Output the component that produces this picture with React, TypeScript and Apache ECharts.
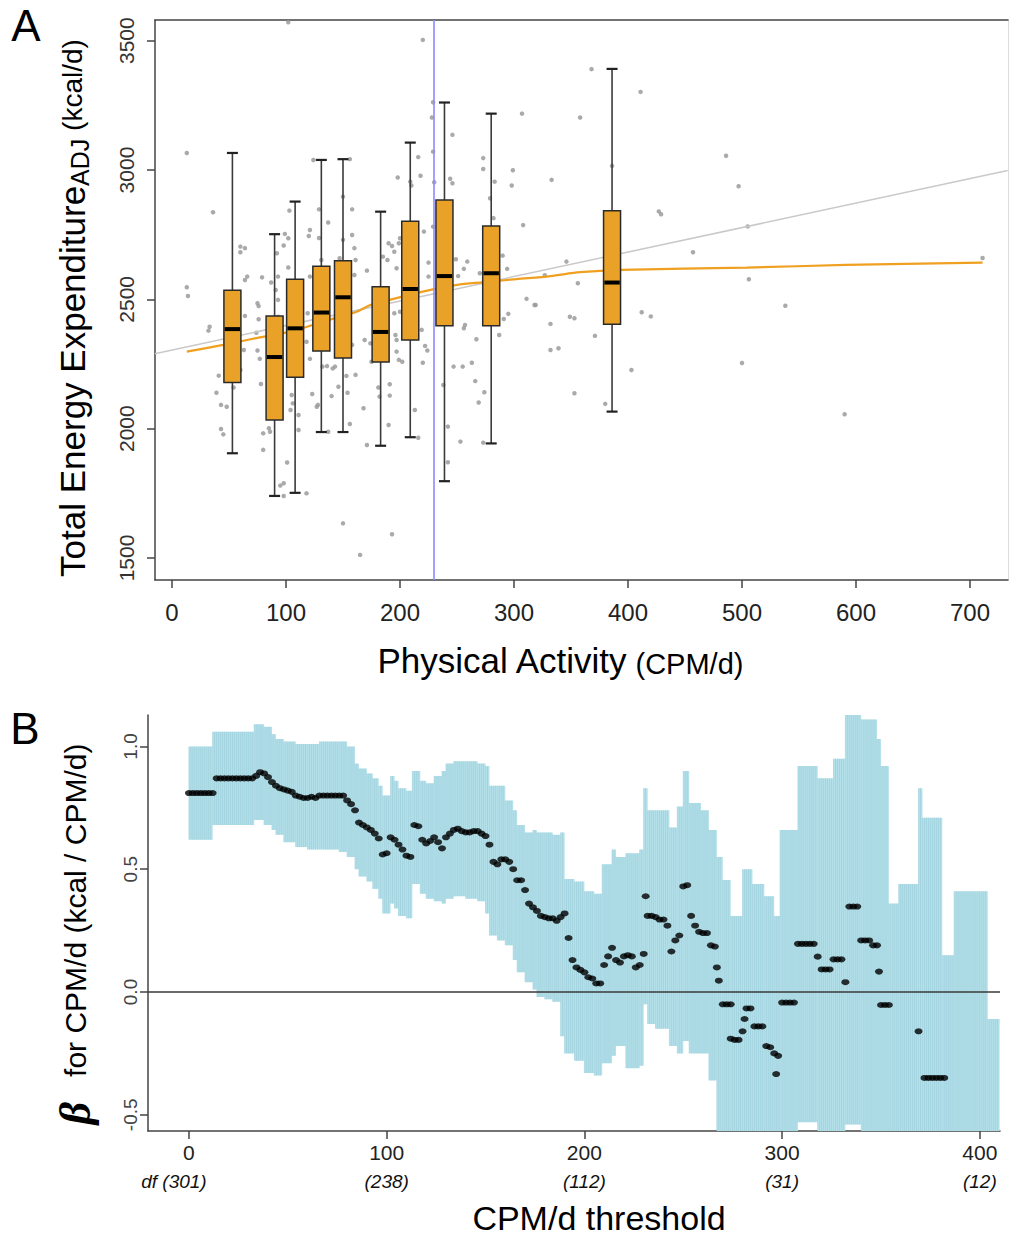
import React, { useEffect, useRef } from "react";
import * as echarts from "echarts";

// ---------- Panel A data ----------
const teeTicks = [1500, 2000, 2500, 3000, 3500];
const cpmTicks = [0, 100, 200, 300, 400, 500, 600, 700];

const boxCpm = [53, 90, 108, 131, 150, 183, 209, 239, 280, 386];
const boxLow = [1905, 1740, 1752, 1987, 1987, 1934, 1967, 1797, 1943, 2066];
const boxQ1 = [2179, 2034, 2199, 2300, 2273, 2258, 2343, 2398, 2398, 2404];
const boxMedian = [2385, 2277, 2388, 2449, 2508, 2374, 2540, 2590, 2601, 2565];
const boxQ3 = [2535, 2436, 2578, 2628, 2649, 2549, 2802, 2884, 2784, 2843];
const boxHigh = [3066, 2752, 2878, 3039, 3042, 2839, 3106, 3261, 3218, 3391];

const subjects: number[][] = [
  [102, 3571], [220, 3503], [13, 3066], [36, 2837], [60, 2704], [64, 2698], [60, 2682], [66, 2588],
  [64, 2575], [79, 2585], [13, 2547], [14, 2513], [99, 2753], [102, 2736], [98, 2708], [103, 2843],
  [102, 2623], [92, 2678], [93, 2588], [87, 2565], [124, 3039], [129, 2848], [137, 2797], [121, 2768],
  [120, 2745], [129, 2737], [131, 2652], [121, 2588], [156, 3042], [150, 2897], [158, 2848], [150, 2730],
  [158, 2749], [160, 2698], [161, 2652], [160, 2594], [147, 2659], [171, 2611], [198, 2971], [216, 3050],
  [218, 2978], [209, 2955], [210, 2940], [221, 2762], [190, 2717], [193, 2706], [200, 2736], [199, 2717],
  [197, 2620], [185, 2665], [189, 2652], [195, 2684], [229, 3262], [228, 3203], [229, 3071], [230, 2953],
  [229, 2781], [246, 3136], [244, 2966], [246, 2949], [249, 2655], [259, 2646], [256, 2618], [251, 2590],
  [225, 2642], [225, 2588], [273, 3046], [273, 3004], [283, 2955], [279, 2891], [282, 2814], [298, 2940],
  [299, 2999], [307, 3218], [333, 2962], [308, 2787], [290, 2669], [294, 2618], [270, 2601], [311, 2502],
  [346, 2646], [327, 2593], [358, 3203], [356, 2562], [33, 2394], [32, 2379], [41, 2205], [39, 2139],
  [43, 2092], [48, 2085], [43, 1999], [45, 1978], [54, 2159], [64, 2436], [63, 2304], [60, 2227],
  [75, 2485], [76, 2474], [76, 2423], [77, 2270], [75, 2302], [78, 2173], [80, 1982], [80, 1918],
  [85, 2002], [86, 1988], [91, 2536], [93, 2498], [93, 2433], [98, 1789], [95, 1780], [98, 1740],
  [101, 1869], [104, 2072], [105, 2130], [106, 2098], [111, 2053], [111, 1995], [118, 1750], [119, 2446],
  [118, 2336], [121, 2270], [123, 2134], [128, 2092], [127, 2085], [132, 2240], [137, 1988], [140, 2126],
  [136, 2242], [146, 2162], [143, 2240], [154, 2139], [156, 2018], [161, 2208], [158, 2324], [150, 1634],
  [165, 1512], [168, 2079], [171, 1937], [169, 2343], [174, 2330], [175, 2259], [181, 2159], [182, 2124],
  [191, 2172], [191, 2128], [190, 2014], [193, 1592], [197, 2298], [199, 2266], [197, 2343], [196, 2362],
  [200, 2452], [202, 2259], [213, 2072], [216, 1965], [220, 2255], [224, 2302], [222, 2320], [219, 2382],
  [238, 2169], [242, 2008], [242, 1870], [247, 2240], [253, 1950], [255, 2240], [257, 2401], [256, 2388],
  [263, 2255], [266, 2184], [269, 2101], [267, 2346], [274, 2141], [273, 1946], [287, 2362], [291, 2424],
  [295, 2444], [318, 2478], [319, 2478], [332, 2405], [332, 2304], [339, 2311], [349, 2433], [353, 2427],
  [353, 2137], [368, 3390], [411, 3302], [386, 3016], [486, 3055], [497, 2937], [427, 2840], [429, 2829],
  [505, 2782], [457, 2682], [711, 2660], [506, 2578], [538, 2475], [412, 2450], [420, 2434], [371, 2359],
  [403, 2227], [500, 2254], [380, 2096], [590, 2056], [74, 2371], [141, 2233], [145, 2317], [153, 2204],
  [195, 2446],
];

const loessFit: number[][] = [
  [13, 2298], [45, 2324], [74, 2350], [104, 2375], [133, 2414], [147, 2433], [162, 2452], [174, 2478],
  [191, 2498], [220, 2530], [250, 2556], [273, 2566], [302, 2578], [332, 2590], [358, 2605], [394, 2614],
  [504, 2623], [591, 2633], [711, 2642],
];
const linearFit: number[][] = [[-15, 2290], [733, 2998]];
const cutoffCpm = 230;

// ---------- Panel B data ----------
const betaTicks = [-0.5, 0, 0.5, 1.0];
const thresholdTicks = [0, 100, 200, 300, 400];
const dfLabels = ["df (301)", "(238)", "(112)", "(31)", "(12)"];

const ciStart = [0, 12, 33, 38, 42, 44, 48, 54, 60, 66, 76, 80, 84, 86, 90, 93, 96, 98, 102, 104, 106, 110, 113, 117, 120, 124, 128, 130, 134, 140, 146, 150, 152, 156, 160, 164, 166, 170, 174, 176, 180, 184, 188, 190, 195, 200, 205, 209, 214, 216, 221, 228, 230, 232, 236, 243, 247, 250, 253, 259, 263, 267, 270, 274, 280, 285, 291, 296, 299, 308, 318, 326, 332, 340, 348, 350, 354, 359, 369, 371, 381, 387, 404];
const ciLo = [0.62, 0.68, 0.70, 0.68, 0.66, 0.64, 0.61, 0.59, 0.58, 0.58, 0.57, 0.55, 0.50, 0.47, 0.45, 0.42, 0.38, 0.32, 0.36, 0.34, 0.31, 0.30, 0.44, 0.40, 0.38, 0.37, 0.36, 0.38, 0.39, 0.38, 0.37, 0.32, 0.23, 0.21, 0.19, 0.13, 0.08, 0.04, 0.01, -0.02, -0.03, -0.04, -0.18, -0.25, -0.28, -0.33, -0.34, -0.29, -0.26, -0.22, -0.31, -0.30, -0.05, -0.13, -0.15, -0.22, -0.25, -0.20, -0.25, -0.25, -0.36, -0.70, -0.70, -0.70, -0.70, -0.70, -0.70, -0.70, -0.70, -0.53, -0.70, -0.70, -0.54, -0.70, -0.70, -0.70, -0.70, -0.70, -0.70, -0.70, -0.70, -0.70, -0.70];
const ciHi = [1.00, 1.06, 1.09, 1.08, 1.05, 1.03, 1.02, 1.01, 1.01, 1.02, 1.02, 1.00, 0.93, 0.91, 0.89, 0.87, 0.84, 0.80, 0.88, 0.86, 0.83, 0.82, 0.90, 0.86, 0.85, 0.88, 0.90, 0.93, 0.94, 0.94, 0.93, 0.92, 0.84, 0.84, 0.78, 0.74, 0.68, 0.65, 0.66, 0.65, 0.65, 0.64, 0.65, 0.46, 0.45, 0.41, 0.40, 0.52, 0.58, 0.55, 0.565, 0.58, 0.83, 0.74, 0.74, 0.67, 0.755, 0.90, 0.77, 0.74, 0.66, 0.55, 0.456, 0.31, 0.50, 0.44, 0.39, 0.31, 0.66, 0.92, 0.87, 0.95, 1.20, 1.11, 1.03, 0.92, 0.36, 0.44, 0.83, 0.71, 0.15, 0.41, -0.11];
const ciLastThreshold = 410;

const betaDots: number[][] = [
  [0, 0.81], [2, 0.81], [4, 0.81], [6, 0.81], [8, 0.81], [10, 0.81], [12, 0.81],
  [14, 0.87], [16, 0.87], [18, 0.87], [20, 0.87], [22, 0.87], [24, 0.87], [26, 0.87], [28, 0.87], [30, 0.87], [32, 0.87],
  [34, 0.88], [36, 0.895], [38, 0.89], [40, 0.875], [42, 0.855], [44, 0.84], [46, 0.83], [48, 0.825], [50, 0.82],
  [52, 0.815], [54, 0.80], [56, 0.795], [58, 0.79], [60, 0.79], [62, 0.795], [64, 0.79], [66, 0.80], [68, 0.80],
  [70, 0.80], [72, 0.80], [74, 0.80], [76, 0.80], [78, 0.80],
  [80, 0.78], [82, 0.765], [84, 0.74], [86, 0.69], [88, 0.68], [90, 0.67], [92, 0.66], [94, 0.645], [96, 0.625],
  [98, 0.56], [100, 0.565], [102, 0.63], [104, 0.62], [106, 0.60], [108, 0.58], [110, 0.555], [112, 0.55],
  [114, 0.68], [116, 0.675], [118, 0.62], [120, 0.605], [122, 0.615], [124, 0.63], [126, 0.61], [128, 0.585],
  [130, 0.63], [132, 0.645], [134, 0.66], [136, 0.665], [138, 0.655], [140, 0.65], [142, 0.65], [144, 0.655],
  [146, 0.655], [148, 0.645], [150, 0.635], [152, 0.60],
  [154, 0.53], [156, 0.52], [158, 0.54], [160, 0.54], [162, 0.53], [164, 0.50], [166, 0.455], [168, 0.455],
  [170, 0.415], [172, 0.36], [174, 0.345], [176, 0.33], [178, 0.31], [180, 0.305], [182, 0.30], [184, 0.30],
  [186, 0.29], [188, 0.305], [190, 0.32],
  [192, 0.22], [194, 0.13], [196, 0.10], [198, 0.09], [200, 0.08], [202, 0.06], [204, 0.055], [206, 0.035],
  [208, 0.035], [210, 0.11], [212, 0.145], [214, 0.18], [216, 0.13], [218, 0.12], [220, 0.145], [222, 0.15],
  [224, 0.145], [226, 0.10], [228, 0.11], [230, 0.155], [231, 0.39], [232, 0.31], [234, 0.31], [236, 0.305],
  [238, 0.295], [240, 0.295], [242, 0.27], [244, 0.165], [246, 0.21], [248, 0.23], [250, 0.43], [252, 0.435],
  [254, 0.31], [256, 0.27], [258, 0.245], [260, 0.24], [262, 0.24], [264, 0.19], [266, 0.185], [267, 0.10],
  [268, 0.046], [270, -0.05], [272, -0.05], [274, -0.05], [274, -0.19], [276, -0.195], [278, -0.195],
  [280, -0.16], [281, -0.11], [282, -0.067], [284, -0.067], [286, -0.14], [288, -0.14], [290, -0.14],
  [292, -0.22], [294, -0.225], [296, -0.25], [297, -0.334], [298, -0.26],
  [300, -0.043], [302, -0.043], [304, -0.043], [306, -0.043], [308, 0.196], [310, 0.196], [312, 0.196],
  [314, 0.196], [316, 0.196], [318, 0.144], [320, 0.092], [322, 0.092], [324, 0.092], [326, 0.133],
  [328, 0.133], [330, 0.133], [332, 0.04], [334, 0.348], [336, 0.348], [338, 0.348], [340, 0.21], [342, 0.21],
  [344, 0.21], [346, 0.19], [348, 0.19], [349, 0.083], [350, -0.053], [352, -0.053], [354, -0.053],
  [358, -0.57], [360, -0.57], [362, -0.57], [364, -0.57], [366, -0.57], [368, -0.57], [369, -0.16],
  [372, -0.35], [374, -0.35], [376, -0.35], [378, -0.35], [380, -0.35], [382, -0.35],
];

const NARROW = "'Liberation Sans Narrow', 'Arial Narrow', 'Liberation Sans', Arial, sans-serif";
const SANS = "'Liberation Sans', Arial, sans-serif";

function buildOption(): any {
  const boxData = boxCpm.map((c, i) => [c, boxLow[i], boxQ1[i], boxMedian[i], boxQ3[i], boxHigh[i]]);
  const ciData = ciStart.map((s, i) => [
    s,
    i + 1 < ciStart.length ? ciStart[i + 1] : ciLastThreshold,
    ciLo[i],
    ciHi[i],
  ]);

  const axisLineStyle = { color: "#444", width: 1.5 };

  return {
    animation: false,
    backgroundColor: "#fff",
    grid: [
      { left: 155, top: 20, width: 853, height: 560 },
      { left: 148, top: 715, width: 852, height: 416 },
    ],
    xAxis: [
      {
        type: "value", gridIndex: 0, min: -14.9, max: 733.3,
        axisLine: { show: true, onZero: false, lineStyle: axisLineStyle },
        axisTick: { show: true, length: 8, lineStyle: axisLineStyle, customValues: cpmTicks },
        axisLabel: {
          customValues: cpmTicks, margin: 20, fontSize: 24, fontFamily: NARROW, color: "#222",
          formatter: (v: number) => String(v),
        },
        splitLine: { show: false },
      },
      {
        type: "value", gridIndex: 0, position: "top", min: -14.9, max: 733.3,
        axisLine: { show: true, onZero: false, lineStyle: axisLineStyle },
        axisTick: { show: false }, axisLabel: { show: false }, splitLine: { show: false },
      },
      {
        type: "value", gridIndex: 1, min: -20.7, max: 410.2,
        axisLine: { show: true, onZero: false, lineStyle: axisLineStyle },
        axisTick: { show: true, length: 8, lineStyle: axisLineStyle, customValues: thresholdTicks },
        axisLabel: {
          customValues: thresholdTicks,
          margin: 8,
          formatter: (v: number) => {
            const i = thresholdTicks.indexOf(v);
            const df = dfLabels[i] ?? "";
            return i === 0
              ? `{n|${v}}\n{d|${df}}{pad| }`
              : `{n|${v}}\n{d|${df}}`;
          },
          rich: {
            n: { fontSize: 21, fontFamily: NARROW, color: "#222", lineHeight: 26 },
            d: { fontSize: 19, fontFamily: SANS, fontStyle: "italic", color: "#111", lineHeight: 32 },
            pad: { width: 30, fontSize: 19, lineHeight: 32 },
          },
        },
        splitLine: { show: false },
      },
    ],
    yAxis: [
      {
        type: "value", gridIndex: 0, min: 1415, max: 3580,
        axisLine: { show: true, onZero: false, lineStyle: axisLineStyle },
        axisTick: { show: true, length: 8, lineStyle: axisLineStyle, customValues: teeTicks },
        axisLabel: {
          customValues: teeTicks, rotate: 90, margin: 18, fontSize: 21, fontFamily: NARROW, color: "#333",
          formatter: (v: number) => String(v),
        },
        splitLine: { show: false },
      },
      {
        type: "value", gridIndex: 0, position: "right", min: 1415, max: 3580,
        axisLine: { show: true, onZero: false, lineStyle: { color: "#ddd", width: 1 } },
        axisTick: { show: false }, axisLabel: { show: false }, splitLine: { show: false },
      },
      {
        type: "value", gridIndex: 1, min: -0.566, max: 1.128,
        axisLine: { show: true, onZero: false, lineStyle: axisLineStyle },
        axisTick: { show: true, length: 8, lineStyle: axisLineStyle, customValues: betaTicks },
        axisLabel: {
          customValues: betaTicks, rotate: 90, margin: 8, fontSize: 19, fontFamily: NARROW, color: "#444",
          formatter: (v: number) => v.toFixed(1),
        },
        splitLine: { show: false },
      },
    ],
    series: [
      {
        type: "scatter", xAxisIndex: 0, yAxisIndex: 0, z: 2,
        data: subjects, symbolSize: 4.5,
        itemStyle: { color: "#9b9b9b", opacity: 0.85 },
      },
      {
        type: "line", xAxisIndex: 0, yAxisIndex: 0, z: 3,
        data: linearFit, showSymbol: false, symbol: "none",
        lineStyle: { color: "#c9c9c9", width: 1.5 },
      },
      {
        type: "line", xAxisIndex: 0, yAxisIndex: 0, z: 4,
        data: loessFit, showSymbol: false, symbol: "none", smooth: 0.3,
        lineStyle: { color: "#F0A020", width: 2.2 },
        markLine: {
          silent: true, symbol: "none", label: { show: false },
          lineStyle: { color: "#8c8cff", width: 1.6, type: "solid" },
          data: [{ xAxis: cutoffCpm }],
        },
      },
      {
        type: "custom", xAxisIndex: 0, yAxisIndex: 0, z: 6,
        data: boxData,
        encode: { x: 0, y: [1, 2, 3, 4, 5] },
        renderItem: (params: any, api: any) => {
          const x = api.value(0);
          const pl = api.coord([x, api.value(1)]);
          const p1 = api.coord([x, api.value(2)]);
          const pm = api.coord([x, api.value(3)]);
          const p3 = api.coord([x, api.value(4)]);
          const ph = api.coord([x, api.value(5)]);
          const hw = 8.5;
          const cw = 5.5;
          const ws = { stroke: "#3a3a3a", lineWidth: 1.6 };
          const cs = { stroke: "#222", lineWidth: 2.2 };
          return {
            type: "group",
            children: [
              { type: "line", shape: { x1: pl[0], y1: pl[1], x2: p1[0], y2: p1[1] }, style: ws },
              { type: "line", shape: { x1: p3[0], y1: p3[1], x2: ph[0], y2: ph[1] }, style: ws },
              { type: "line", shape: { x1: pl[0] - cw, y1: pl[1], x2: pl[0] + cw, y2: pl[1] }, style: cs },
              { type: "line", shape: { x1: ph[0] - cw, y1: ph[1], x2: ph[0] + cw, y2: ph[1] }, style: cs },
              {
                type: "rect",
                shape: { x: p3[0] - hw, y: p3[1], width: hw * 2, height: p1[1] - p3[1] },
                style: { fill: "#E9A227", stroke: "#2a2a2a", lineWidth: 1.5 },
              },
              {
                type: "line",
                shape: { x1: pm[0] - hw + 0.8, y1: pm[1], x2: pm[0] + hw - 0.8, y2: pm[1] },
                style: { stroke: "#000", lineWidth: 4 },
              },
            ],
          };
        },
      },
      {
        type: "custom", xAxisIndex: 2, yAxisIndex: 2, z: 2,
        data: ciData,
        encode: { x: [0, 1], y: [2, 3] },
        renderItem: (params: any, api: any) => {
          const xs = api.value(0);
          const xe = api.value(1);
          const lo = api.value(2);
          const hi = api.value(3);
          const a = api.coord([xs, hi]);
          const b = api.coord([xe, lo]);
          const sys = params.coordSys;
          const rect = echarts.graphic.clipRectByRect(
            { x: a[0], y: a[1], width: b[0] - a[0], height: b[1] - a[1] },
            { x: sys.x, y: sys.y, width: sys.width, height: sys.height }
          );
          if (!rect) return { type: "group", children: [] };
          const children: any[] = [
            { type: "rect", shape: rect, style: { fill: "#B5E1EA" } },
          ];
          for (let k = Math.ceil(xs); k < xe; k++) {
            const px = api.coord([k, 0])[0];
            children.push({
              type: "line",
              shape: { x1: px, y1: rect.y, x2: px, y2: rect.y + rect.height },
              style: { stroke: "#97CBD9", lineWidth: 0.6 },
            });
          }
          return { type: "group", children };
        },
      },
      {
        type: "scatter", xAxisIndex: 2, yAxisIndex: 2, z: 5,
        data: betaDots, symbolSize: [8, 6], clip: true,
        itemStyle: { color: "#000" },
        markLine: {
          silent: true, symbol: "none", label: { show: false },
          lineStyle: { color: "#3a3a3a", width: 1.5, type: "solid" },
          data: [{ yAxis: 0 }],
        },
      },
    ],
    graphic: [
      {
        type: "text", x: 26, y: 25,
        style: { text: "A", fontSize: 44, fontFamily: SANS, fill: "#000", align: "center", verticalAlign: "middle", textAlign: "center", textVerticalAlign: "middle" },
      },
      {
        type: "text", x: 25, y: 728,
        style: { text: "B", fontSize: 44, fontFamily: SANS, fill: "#000", align: "center", verticalAlign: "middle", textAlign: "center", textVerticalAlign: "middle" },
      },
      {
        type: "text", x: 72, y: 308, rotation: Math.PI / 2,
        style: {
          text: "{a|Total Energy Expenditure}{s|ADJ}{b| (kcal/d)}",
          align: "center", verticalAlign: "middle", textAlign: "center", textVerticalAlign: "middle",
          rich: {
            a: { fontSize: 35, fontFamily: SANS, fill: "#000", color: "#000", lineHeight: 40 },
            s: { fontSize: 25, fontFamily: SANS, fill: "#000", color: "#000", lineHeight: 25, verticalAlign: "bottom" },
            b: { fontSize: 28, fontFamily: SANS, fill: "#000", color: "#000", lineHeight: 40 },
          },
        },
      },
      {
        type: "text", x: 560, y: 660,
        style: {
          text: "{a|Physical Activity}{b| (CPM/d)}",
          align: "center", verticalAlign: "middle", textAlign: "center", textVerticalAlign: "middle",
          rich: {
            a: { fontSize: 35, fontFamily: SANS, fill: "#000", color: "#000", lineHeight: 36 },
            b: { fontSize: 29, fontFamily: SANS, fill: "#000", color: "#000", lineHeight: 32, verticalAlign: "bottom" },
          },
        },
      },
      {
        type: "text", x: 75, y: 934, rotation: Math.PI / 2,
        style: {
          text: "{g|β}{a|   for CPM/d (kcal / CPM/d)}",
          align: "center", verticalAlign: "middle", textAlign: "center", textVerticalAlign: "middle",
          rich: {
            g: { fontSize: 44, fontFamily: "'Liberation Serif', 'DejaVu Serif', serif", fontStyle: "italic", fontWeight: "bold", fill: "#000", color: "#000", lineHeight: 44 },
            a: { fontSize: 30, fontFamily: SANS, fill: "#000", color: "#000", lineHeight: 44 },
          },
        },
      },
      {
        type: "text", x: 599, y: 1218,
        style: { text: "CPM/d threshold", fontSize: 34, fontFamily: SANS, fill: "#000", align: "center", verticalAlign: "middle", textAlign: "center", textVerticalAlign: "middle" },
      },
    ],
  };
}

export default function App() {
  const ref = useRef<HTMLDivElement>(null);
  useEffect(() => {
    if (!ref.current) return;
    const chart = echarts.init(ref.current, undefined, { renderer: "svg" });
    chart.setOption(buildOption());
    return () => chart.dispose();
  }, []);
  return (
    <div
      ref={ref}
      style={{ position: "absolute", left: 0, top: 0, width: 1010, height: 1239, background: "#fff" }}
    />
  );
}
